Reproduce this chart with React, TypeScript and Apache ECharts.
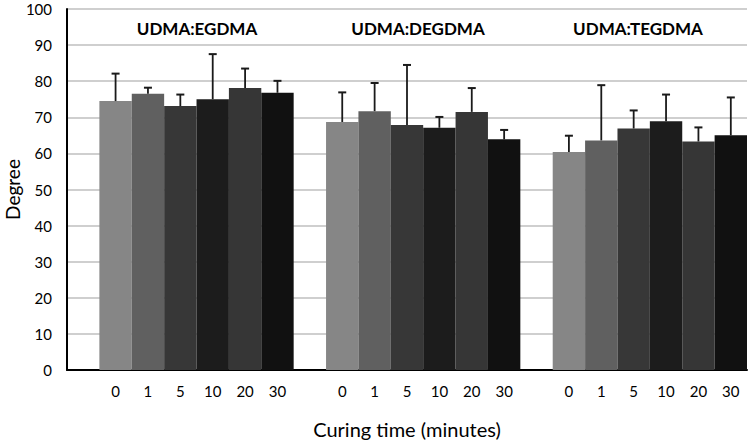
import React, { useEffect, useRef } from "react";
import * as echarts from "echarts";

const groups = ["UDMA:EGDMA", "UDMA:DEGDMA", "UDMA:TEGDMA"];
const times = ["0", "1", "5", "10", "20", "30"];
const barColors = ["#868686", "#606060", "#373737", "#1c1c1c", "#363636", "#111111"];

const egdmaMean = [74.5, 76.5, 73.1, 75.0, 78.1, 76.8];
const egdmaErr = [7.6, 1.7, 3.2, 12.5, 5.4, 3.3];
const degdmaMean = [68.7, 71.7, 67.9, 67.1, 71.5, 63.9];
const degdmaErr = [8.2, 7.8, 16.6, 3.0, 6.6, 2.6];
const tegdmaMean = [60.4, 63.6, 66.9, 68.9, 63.3, 65.0];
const tegdmaErr = [4.5, 15.3, 5.0, 7.4, 3.9, 10.5];

const yTicks = { min: 0, max: 100, interval: 10 };

const FONT = "Lato";

export default function App() {
  const ref = useRef<HTMLDivElement>(null);

  useEffect(() => {
    if (!ref.current) return;
    const chart = echarts.init(ref.current, null, { renderer: "svg" });

    const means = [egdmaMean, degdmaMean, tegdmaMean];
    const errs = [egdmaErr, degdmaErr, tegdmaErr];

    const categories: string[] = [];
    const barData: any[] = [];
    const errData: number[][] = [];
    means.forEach((m, g) => {
      categories.push("");
      barData.push("-");
      m.forEach((v, i) => {
        categories.push(times[i]);
        barData.push({ value: v, itemStyle: { color: barColors[i] } });
        errData.push([categories.length - 1, v, v + errs[g][i]]);
      });
    });

    const titleX = [197, 418, 638];

    chart.setOption({
      animation: false,
      textStyle: { fontFamily: FONT },
      grid: {
        left: 67,
        right: 2,
        top: 9,
        bottom: 71,
        containLabel: false,
        outerBoundsMode: "none",
      },
      xAxis: {
        type: "category",
        data: categories,
        name: "Curing time (minutes)",
        nameLocation: "middle",
        nameGap: 49,
        nameMoveOverlap: false,
        nameTextStyle: { fontSize: 20, color: "#000", fontFamily: FONT },
        axisLine: { lineStyle: { color: "#000", width: 2 } },
        axisTick: { show: false },
        axisLabel: { interval: 0, fontSize: 15, color: "#000", margin: 13, fontFamily: FONT },
        splitLine: { show: false },
      },
      yAxis: {
        type: "value",
        min: yTicks.min,
        max: yTicks.max,
        interval: yTicks.interval,
        name: "Degree",
        nameLocation: "middle",
        nameGap: 45,
        nameMoveOverlap: false,
        nameTextStyle: { fontSize: 19, color: "#000", fontFamily: FONT, lineHeight: 20 },
        axisLine: { show: true, lineStyle: { color: "#000", width: 2 } },
        axisTick: { show: false },
        axisLabel: { fontSize: 15, color: "#000", margin: 15, fontFamily: FONT },
        splitLine: { lineStyle: { color: "#bfbfbf", width: 1.5 } },
      },
      graphic: groups.map((g, i) => ({
        type: "text",
        x: titleX[i],
        y: 28,
        style: {
          text: g,
          fill: "#000",
          fontSize: 17,
          fontWeight: "bold",
          fontFamily: FONT,
          textAlign: "center",
          textVerticalAlign: "middle",
        },
      })),
      series: [
        {
          type: "bar",
          data: barData,
          barCategoryGap: "0%",
          barGap: "0%",
          z: 2,
        },
        {
          type: "custom",
          data: errData,
          z: 3,
          renderItem: (params: any, api: any) => {
            const x = api.value(0);
            const low = api.coord([x, api.value(1)]);
            const high = api.coord([x, api.value(2)]);
            const cap = 4;
            const style = { stroke: "#1a1a1a", lineWidth: 1.8 };
            return {
              type: "group",
              children: [
                { type: "line", shape: { x1: low[0], y1: low[1], x2: high[0], y2: high[1] }, style },
                { type: "line", shape: { x1: high[0] - cap, y1: high[1], x2: high[0] + cap, y2: high[1] }, style: { stroke: "#1a1a1a", lineWidth: 2 } },
              ],
            };
          },
        },
      ],
    });

    return () => chart.dispose();
  }, []);

  return (
    <div
      ref={ref}
      style={{ position: "fixed", left: 0, top: 0, width: 749, height: 441, background: "#fff" }}
    />
  );
}
